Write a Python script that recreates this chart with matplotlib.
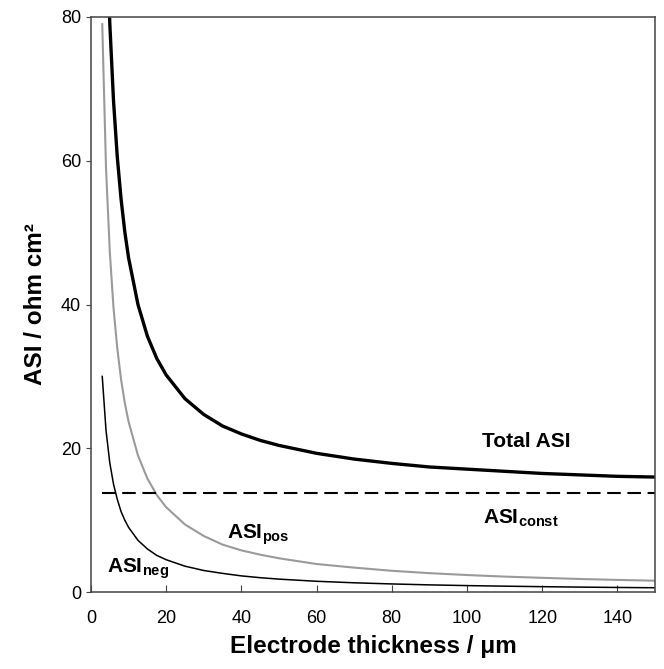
import matplotlib
matplotlib.use('Agg')
import matplotlib.pyplot as plt

# electrode thickness (um) and area specific resistance (ohm cm2)
thickness = [3, 4, 5, 6, 7, 8, 9, 10, 12.5, 15, 17.5, 20, 25, 30, 35, 40, 45,
             50, 60, 70, 80, 90, 100, 110, 120, 130, 140, 150]
asi_neg = [30.0, 22.5, 18.0, 15.0, 12.9, 11.2, 10.0, 9.0, 7.2, 6.0, 5.1, 4.5,
           3.6, 3.0, 2.6, 2.25, 2.0, 1.8, 1.5, 1.29, 1.13, 1.0, 0.9, 0.82,
           0.75, 0.69, 0.64, 0.6]
asi_pos = [79.0, 59.0, 47.4, 39.5, 33.9, 29.6, 26.3, 23.7, 19.0, 15.8, 13.5,
           11.8, 9.4, 7.8, 6.6, 5.8, 5.2, 4.7, 3.9, 3.4, 2.96, 2.63, 2.37,
           2.15, 1.98, 1.82, 1.69, 1.58]
asi_total = [122.8, 95.6, 79.2, 68.3, 60.5, 54.7, 50.1, 46.5, 40.0, 35.6, 32.5,
             30.2, 26.9, 24.7, 23.1, 22.0, 21.1, 20.4, 19.3, 18.5, 17.9, 17.4,
             17.1, 16.8, 16.5, 16.3, 16.1, 16.0]
asi_const = 13.8
const_span = [3, 150]

plt.rcParams['font.family'] = ['Liberation Sans', 'DejaVu Sans']
plt.rcParams['mathtext.fontset'] = 'custom'
plt.rcParams['mathtext.rm'] = 'Liberation Sans'
plt.rcParams['mathtext.bf'] = 'Liberation Sans:bold'

fig = plt.figure(figsize=(6.64, 6.69), dpi=100)
ax = fig.add_axes([0.137, 0.115, 0.8495, 0.8596])

ax.plot(thickness, asi_total, color='black', lw=2.4)
ax.plot(thickness, asi_pos, color='#9a9a9a', lw=1.5)
ax.plot(thickness, asi_neg, color='black', lw=1.1)
ax.plot(const_span, [asi_const, asi_const], color='black', lw=1.5,
        dashes=(6.5, 3.2))

ax.set_xlim(0, 150)
ax.set_ylim(0, 80)
ax.set_xticks(range(0, 141, 20))
ax.set_yticks(range(0, 81, 20))

for s in ax.spines.values():
    s.set_color('#444444')
    s.set_linewidth(1.1)
ax.tick_params(axis='x', direction='in', length=5, pad=13, labelsize=13,
               color='#444444')
ax.tick_params(axis='y', direction='out', length=3.6, pad=3.6, labelsize=13,
               color='#444444')

ax.set_xlabel('Electrode thickness / μm', fontsize=17.5, fontweight='bold',
              labelpad=6)
ax.set_ylabel('ASI / ohm cm²', fontsize=17.5, fontweight='bold', labelpad=10)

# curve labels
ax.text(115.7, 20.9, 'Total ASI', fontsize=15, fontweight='bold',
        ha='center', va='center')
ax.text(104.3, 9.6, r'ASI$_{\mathbf{const}}$', fontsize=15, fontweight='bold',
        ha='left', va='baseline')
ax.text(36.1, 7.5, r'ASI$_{\mathbf{pos}}$', fontsize=15, fontweight='bold',
        ha='left', va='baseline')
ax.text(4.2, 2.8, r'ASI$_{\mathbf{neg}}$', fontsize=15, fontweight='bold',
        ha='left', va='baseline')

fig.savefig('out.png', dpi=100)
